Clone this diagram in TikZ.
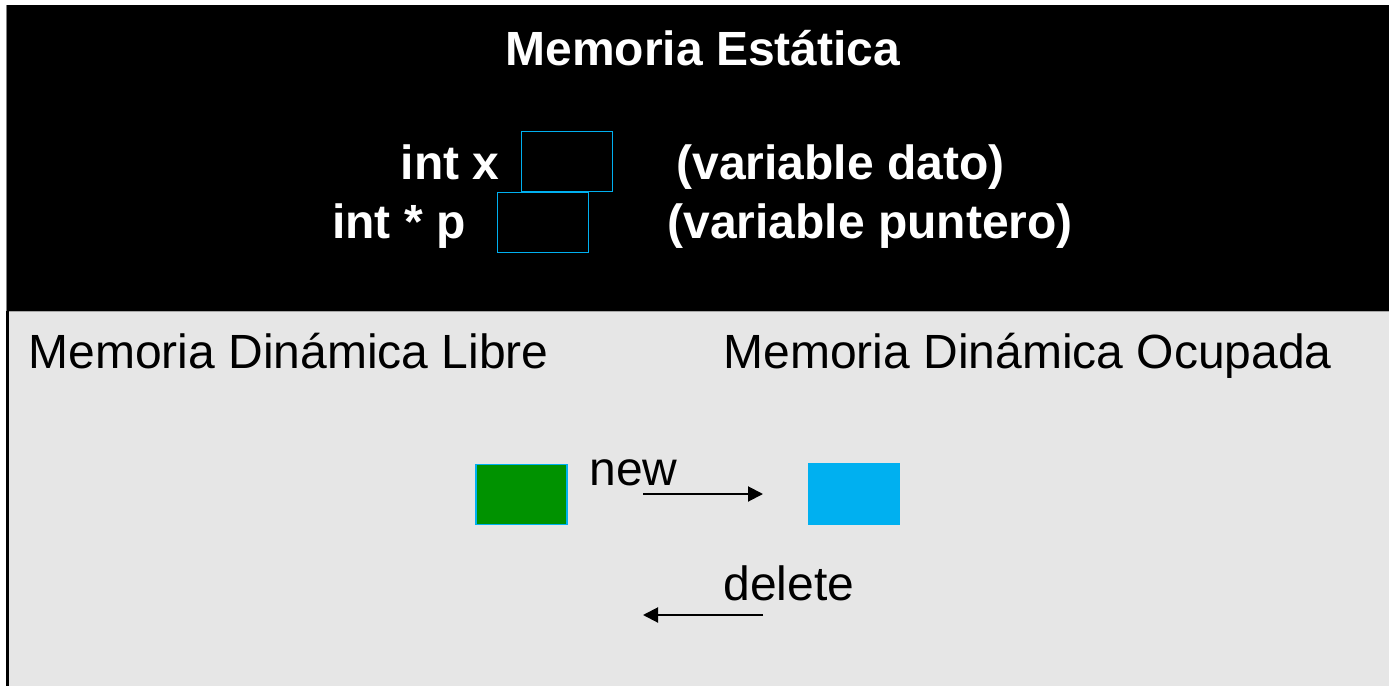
\documentclass[tikz,border=0pt]{standalone}
\usepackage{fontspec}
\setmainfont{Liberation Sans}
\usepackage{xcolor}
\usetikzlibrary{arrows.meta,positioning}
\definecolor{celeste}{RGB}{0,176,240}
\definecolor{verde}{RGB}{0,146,0}
\definecolor{fondo}{RGB}{230,230,230}
\tikzset{
  titulo/.style={font=\fontsize{24}{28}\selectfont\bfseries, text=white, inner sep=0pt},
  etiqueta/.style={font=\fontsize{24}{28}\selectfont, text=black, inner sep=0pt},
  celda/.style={draw=celeste, line width=0.9pt, minimum width=45.5pt, minimum height=30pt, inner sep=0pt},
  flecha/.style={-{Triangle[length=7.5pt,width=7.5pt]}, line width=1pt}
}
\begin{document}
\begin{tikzpicture}[x = 0.5pt, y = -0.5pt]
\useasboundingbox (0,0) rectangle (1389,686);
% fondos
\fill[black] (6,5) rectangle (1389,311);
\fill[fondo] (9,311) rectangle (1389,686);
\draw[gray, line width=0.5pt] (6.5,5) -- (6.5,311);
\draw[gray!70, line width=0.5pt] (9,311.5) -- (1389,311.5);
\draw[black, line width=1.5pt] (7.5,311) -- (7.5,686);
% memoria estatica
\node[titulo, anchor = base] (estatica) at (703,65) {Memoria Estática};
\node[titulo, anchor = base east] (intx) at (500,179) {int x};
\node[titulo, anchor = base east] (intp) at (466,238) {int * p};
\node[titulo, anchor = base west] (dato) at (676,179) {(variable dato)};
\node[titulo, anchor = base west] (puntero) at (667,238) {(variable puntero)};
\node[celda] (celdax) at (567,161.5) {};
\node[celda] (celdap) at (543,222.5) {};
% memoria dinamica
\node[etiqueta, anchor = base west] (libre) at (28,368) {Memoria Dinámica Libre};
\node[etiqueta, anchor = base west] (ocupada) at (723,368) {Memoria Dinámica Ocupada};
\node[celda, fill = verde, line width=0.6pt] (bloquelibre) at (521.5,494.5) {};
\node[celda, fill = celeste] (bloqueocupado) at (854,494) {};
\node[etiqueta, anchor = base west] (new) at (589,485) {new};
\node[etiqueta, anchor = base west] (delete) at (723,600) {delete};
\coordinate (n1) at (643,494);
\coordinate (n2) at (763,494);
\coordinate (d1) at (763,615);
\coordinate (d2) at (643,615);
\draw[flecha] (n1) -- (n2);
\draw[flecha] (d1) -- (d2);
\end{tikzpicture}
\end{document}
